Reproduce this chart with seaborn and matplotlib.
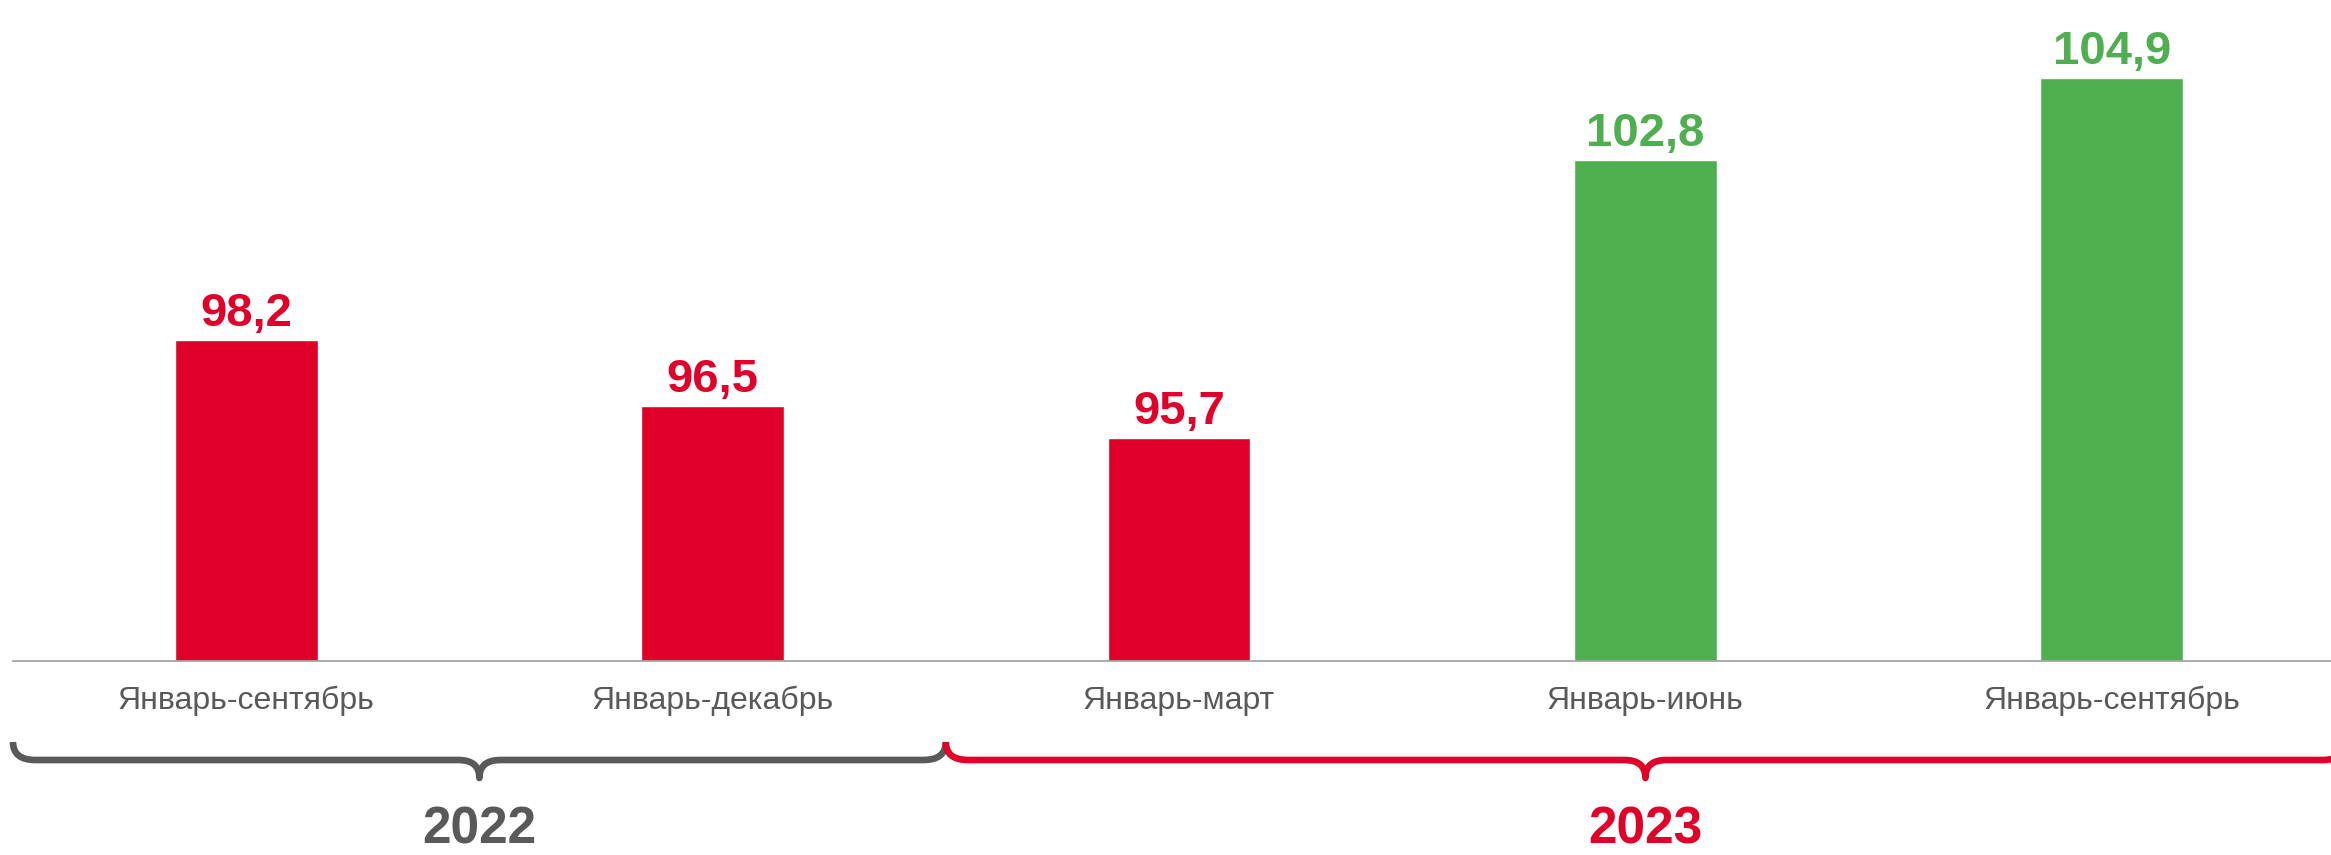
import matplotlib
matplotlib.use("Agg")
import matplotlib.pyplot as plt
import matplotlib.transforms as mtransforms
from matplotlib.path import Path
from matplotlib.patches import PathPatch
import seaborn as sns
import pandas as pd

# ---- data ----
years = ["2022", "2022", "2023", "2023", "2023"]
periods = ["Январь-сентябрь", "Январь-декабрь", "Январь-март", "Январь-июнь", "Январь-сентябрь"]
values = [98.2, 96.5, 95.7, 102.8, 104.9]
trend = ["down", "down", "down", "up", "up"]
value_labels = ["98,2", "96,5", "95,7", "102,8", "104,9"]
year_groups = ["2022", "2023"]

RED = "#E1002A"
GREEN = "#4FAE4F"
GRAY = "#595959"
AXIS = "#A6A6A6"

sns.set_theme(style="white")
plt.rcParams["font.family"] = ["Liberation Sans", "DejaVu Sans"]

W, H = 2331, 855
fig = plt.figure(figsize=(W / 100, H / 100), dpi=100)
ax = fig.add_axes([13 / W, (H - 660.5) / H, 2332 / W, 660.5 / H])

df = pd.DataFrame({
    "key": [f"{y} {p}" for y, p in zip(years, periods)],
    "value": values,
    "trend": trend,
})
sns.barplot(data=df, x="key", y="value", hue="trend",
            palette={"down": RED, "up": GREEN}, dodge=False,
            width=0.306, legend=False, ax=ax, saturation=1)

ax.set_xlim(-0.5, 4.5)
ax.set_ylim(90, 106.89)
ax.set_xlabel("")
ax.set_ylabel("")
ax.set_yticks([])
ax.set_xticks(range(len(periods)))
ax.set_xticklabels(periods, fontsize=23, color=GRAY)
ax.tick_params(axis="x", length=0, pad=18)
for s in ["top", "left", "right"]:
    ax.spines[s].set_visible(False)
ax.spines["bottom"].set_color(AXIS)
ax.spines["bottom"].set_linewidth(1.3)

colors = {"down": RED, "up": GREEN}
for i, (v, lab, t) in enumerate(zip(values, value_labels, trend)):
    ax.annotate(lab, xy=(i, v), xytext=(0, 10), textcoords="offset points",
                ha="center", va="baseline", fontsize=34, fontweight="bold",
                color=colors[t], annotation_clip=False)

# ---- braces under the axis (x in data units, y in figure pixels) ----
tr = mtransforms.blended_transform_factory(ax.transData, fig.transFigure)

def fy(px):
    return 1 - px / H

def brace(x0, x1, xc, color):
    yt, yh, ytip = 742, 760, 778
    r, r2 = 0.048, 0.045
    verts = [
        (x0, fy(yt)), (x0, fy(yh)), (x0 + r, fy(yh)),
        (xc - r2, fy(yh)),
        (xc, fy(yh)), (xc, fy(ytip)),
        (xc, fy(yh)), (xc + r2, fy(yh)),
        (x1 - r, fy(yh)),
        (x1, fy(yh)), (x1, fy(yt)),
    ]
    codes = [Path.MOVETO, Path.CURVE3, Path.CURVE3,
             Path.LINETO,
             Path.CURVE3, Path.CURVE3,
             Path.CURVE3, Path.CURVE3,
             Path.LINETO,
             Path.CURVE3, Path.CURVE3]
    patch = PathPatch(Path(verts, codes), transform=tr, fill=False,
                      edgecolor=color, lw=4.8, capstyle="butt",
                      joinstyle="round", clip_on=False)
    fig.add_artist(patch)

brace(-0.5, 1.5, 0.5, GRAY)
brace(1.5, 4.5, 3.0, RED)

year_x = [0.5, 3.0]
year_colors = [GRAY, RED]
for x, y, c in zip(year_x, year_groups, year_colors):
    fig.text(x, fy(854), y, transform=tr, ha="center", va="bottom",
             fontsize=37, fontweight="bold", color=c)

fig.savefig("out.png", dpi=100)
